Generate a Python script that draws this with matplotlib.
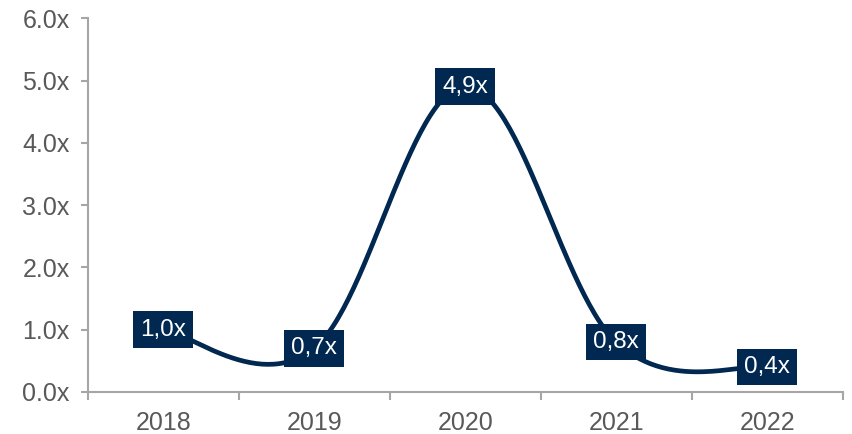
import numpy as np
import matplotlib.pyplot as plt

# valores do gráfico
anos = ['2018', '2019', '2020', '2021', '2022']
multiplos = [1.0, 0.7, 4.9, 0.8, 0.4]
rotulos = ['1,0x', '0,7x', '4,9x', '0,8x', '0,4x']
y_ticks = [0, 1, 2, 3, 4, 5, 6]

azul = '#002850'
cinza = '#A6A6A6'
texto = '#595959'

plt.rcParams['font.family'] = ['Liberation Sans', 'DejaVu Sans']


def suavizar(xs, ys, k=0.18, n=60):
    # curva suave tipo Excel (bezier com pontos de controle Catmull-Rom)
    pts = np.column_stack([xs, ys]).astype(float)
    ext = np.vstack([pts[0], pts, pts[-1]])
    t = np.linspace(0, 1, n)[:, None]
    curva = []
    for i in range(len(pts) - 1):
        p0, p1, p2, p3 = ext[i], ext[i + 1], ext[i + 2], ext[i + 3]
        c1 = p1 + k * (p2 - p0)
        c2 = p2 - k * (p3 - p1)
        seg = ((1 - t) ** 3) * p1 + 3 * ((1 - t) ** 2) * t * c1 \
            + 3 * (1 - t) * t ** 2 * c2 + t ** 3 * p2
        curva.append(seg)
    curva = np.vstack(curva)
    return curva[:, 0], curva[:, 1]


x = np.arange(len(anos))
xs, ys = suavizar(x, multiplos)

fig, ax = plt.subplots(figsize=(8.52, 4.34), dpi=100)
fig.subplots_adjust(left=0.103, right=0.989, top=0.958, bottom=0.097)

ax.plot(xs, ys, color=azul, linewidth=3.4, solid_capstyle='round', zorder=2)

for xi, yi, r in zip(x, multiplos, rotulos):
    ax.text(xi, yi, r, ha='center', va='center', color='white', fontsize=17.5,
            zorder=3,
            bbox=dict(boxstyle='square,pad=0.3', facecolor=azul, edgecolor='none'))

ax.set_xlim(-0.5, len(anos) - 0.5)
ax.set_ylim(0, 6)
ax.set_yticks(y_ticks)
ax.set_yticklabels([f'{v:.1f}x' for v in y_ticks])
ax.set_xticks(x)
ax.set_xticklabels(anos)
ax.set_xticks(np.arange(-0.5, len(anos), 1), minor=True)

for lado in ['top', 'right']:
    ax.spines[lado].set_visible(False)
for lado in ['left', 'bottom']:
    ax.spines[lado].set_color(cinza)
    ax.spines[lado].set_linewidth(1.5)

ax.tick_params(axis='y', colors=cinza, labelcolor=texto, labelsize=18,
               length=5, width=1.5, pad=8)
ax.tick_params(axis='x', which='major', length=0, labelcolor=texto,
               labelsize=18, pad=14)
ax.tick_params(axis='x', which='minor', length=6, width=1.5, colors=cinza)

fig.savefig('out.png', dpi=100)
